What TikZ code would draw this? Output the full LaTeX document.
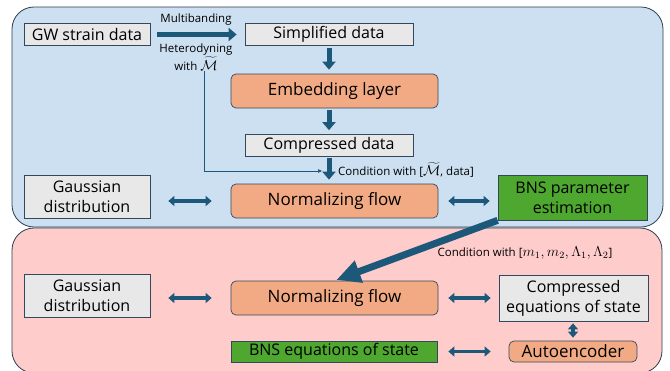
\documentclass[tikz,border=0pt]{standalone}
\usepackage{fontspec}
\setmainfont{Open Sans}
\usepackage{tikz}
\usetikzlibrary{arrows.meta,positioning}

\definecolor{panelblue}{RGB}{204,224,241}
\definecolor{panelpink}{RGB}{255,204,204}
\definecolor{panelline}{RGB}{44,62,78}
\definecolor{boxline}{RGB}{52,72,92}
\definecolor{boxgray}{RGB}{232,232,232}
\definecolor{netorange}{RGB}{242,170,132}
\definecolor{resgreen}{RGB}{78,167,46}
\definecolor{arrowblue}{RGB}{28,88,122}

\newcommand{\mth}[1]{\scalebox{1.2}{$#1$}}

\begin{document}
\begin{tikzpicture}[x=1pt,y=-1pt]
		\tikzstyle{panel}=[draw=panelline, line width=0.8pt, rounded corners=22pt]
		\tikzstyle{data box}=[rectangle, draw=boxline, fill=boxgray, line width=0.7pt, inner sep=0pt, align=center, font=\fontsize{16}{20}\selectfont]
		\tikzstyle{net box}=[rectangle, rounded corners=5pt, draw=boxline, fill=netorange, line width=0.7pt, inner sep=0pt, align=center, font=\fontsize{17}{20}\selectfont]
		\tikzstyle{result box}=[rectangle, draw=boxline, fill=resgreen, line width=0.7pt, inner sep=0pt, align=center, font=\fontsize{16}{20}\selectfont]
		\tikzstyle{flow arrow}=[draw=arrowblue, line width=5pt, -{Triangle[length=8pt,width=13pt]}]
		\tikzstyle{both arrow}=[draw=arrowblue, line width=3.5pt, {Triangle[length=6pt,width=10pt]}-{Triangle[length=6pt,width=10pt]}]
		\tikzstyle{cond arrow}=[draw=arrowblue, line width=7pt, -{Triangle[length=24pt,width=22pt]}]
		\tikzstyle{thin arrow}=[draw=arrowblue, line width=0.6pt, -{Triangle[length=4pt,width=3.5pt]}]
		\tikzstyle{note}=[inner sep=0pt, font=\fontsize{11.5}{16}\selectfont]

		\useasboundingbox (0,0) rectangle (670,370);
		\draw[panel, fill=panelblue] (12,7) rectangle (663,227);
		\draw[panel, fill=panelpink] (12,228) rectangle (662,373);

		% parameter estimation
		\node [data box, minimum width=126pt, minimum height=22pt] (gw) at (87,34.5) {GW strain data};
		\node [data box, minimum width=168pt, minimum height=22pt] (simp) at (329,34.5) {Simplified data};
		\node [net box, minimum width=207pt, minimum height=34pt] (embed) at (334.5,91) {Embedding layer};
		\node [data box, minimum width=168pt, minimum height=22pt] (comp) at (329,145.5) {Compressed data};
		\node [data box, minimum width=126pt, minimum height=43pt] (gauss1) at (87,197) {Gaussian\\distribution};
		\node [net box, minimum width=207pt, minimum height=34pt] (flow1) at (334.5,201) {Normalizing flow};
		\node [result box, minimum width=149pt, minimum height=45pt] (bns1) at (572.5,197.5) {BNS parameter\\estimation};

		\node [note] (mb) at (196,20) {Multibanding};
		\node [note, align=center] (het) at (196,57) {Heterodyning\\[1pt]with \mth{\widetilde{\mathcal{M}}}};
		\node [note, anchor=west] (cond1) at (338,170) {Condition with [\mth{\widetilde{\mathcal{M}}}, data]};
		\coordinate (bend) at (204,171);
		\coordinate (condin) at (322,171);

		% equation of state
		\node [data box, minimum width=126pt, minimum height=43pt] (gauss2) at (87,296) {Gaussian\\distribution};
		\node [net box, minimum width=207pt, minimum height=34pt] (flow2) at (334.5,298) {Normalizing flow};
		\node [data box, minimum width=149pt, minimum height=46pt] (eos) at (573.5,298) {Compressed\\equations of state};
		\node [result box, minimum width=206pt, minimum height=21pt] (bnseos) at (334,351.5) {BNS equations of state};
		\node [net box, minimum width=128pt, minimum height=21pt] (auto) at (573,351.5) {Autoencoder};
		\node [note] (cond2) at (525,253) {Condition with [\mth{m_1, m_2, \Lambda_1, \Lambda_2}]};

		\draw [flow arrow, shorten <=7pt, shorten >=8pt] (gw.east) -- (simp.west);
		\draw [flow arrow, shorten <=2pt, shorten >=4pt] (simp.south) -- (simp.south |- embed.north);
		\draw [flow arrow, shorten <=2pt, shorten >=4pt] (embed.south -| comp) -- (comp.north);
		\draw [flow arrow, shorten <=1.5pt, shorten >=4pt] (comp.south) -- (comp.south |- flow1.north);
		\draw [thin arrow] (het.south -| bend) |- (condin);
		\draw [both arrow, shorten <=18pt, shorten >=19pt] (gauss1.east |- flow1) -- (flow1.west);
		\draw [both arrow, shorten <=10pt, shorten >=8pt] (flow1.east) -- (flow1.east -| bns1.west);
		\draw [cond arrow, shorten >=2pt] (bns1.south west) -- (flow2.north);
		\draw [both arrow, shorten <=18pt, shorten >=19pt] (gauss2.east |- flow2) -- (flow2.west);
		\draw [both arrow, shorten <=10pt, shorten >=8pt] (flow2.east) -- (flow2.east -| eos.west);
		\draw [both arrow, shorten <=2pt, shorten >=3pt] (eos.south -| auto) -- (auto.north);
		\draw [both arrow, shorten <=11pt, shorten >=18pt] (bnseos.east) -- (auto.west);
	\end{tikzpicture}
\end{document}
